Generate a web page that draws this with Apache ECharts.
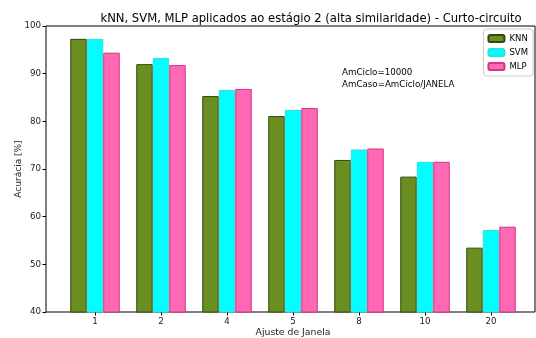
<!DOCTYPE html>
<html><head><meta charset="utf-8">
<script src="https://cdn.jsdelivr.net/npm/echarts@6/dist/echarts.min.js"></script>
<style>html,body{margin:0;padding:0;background:#fff}#c{width:536px;height:338px}</style>
</head><body><div id="c"></div>
<script>
const categories = ['1','2','4','5','8','10','20'];
const knn = [97.3, 92.0, 85.3, 81.1, 71.9, 68.4, 53.5];
const svm = [97.3, 93.3, 86.6, 82.4, 74.1, 71.5, 57.2];
const mlp = [94.4, 91.8, 86.8, 82.8, 74.3, 71.5, 57.9];
const yTicks = [40, 50, 60, 70, 80, 90, 100];
const titleText = 'kNN, SVM, MLP aplicados ao estágio 2 (alta similaridade) - Curto-circuito';
const noteLines = ['AmCiclo=10000', 'AmCaso=AmCiclo/JANELA'];

const font = 'DejaVu Sans';
const chart = echarts.init(document.getElementById('c'));
chart.setOption({
  animation: false,
  textStyle: {fontFamily: font},
  title: {text: titleText, left: 306, top: 8, textAlign: 'center',
    textStyle: {fontFamily: font, fontSize: 11.6, fontWeight: 'normal', color: '#000'}},
  grid: [
    {left: 46, right: 1, top: 26, bottom: 26, show: true, borderColor: '#000', borderWidth: 1, backgroundColor: 'transparent', outerBoundsMode: 'none', containLabel: false},
    {left: 62, width: 462, top: 26, bottom: 26, outerBoundsMode: 'none', containLabel: false}
  ],
  xAxis: [
    {gridIndex: 0, type: 'value', min: 0, max: 1, show: false},
    {gridIndex: 1, type: 'category', data: categories,
      axisLine: {show: false},
      axisTick: {show: true, alignWithLabel: true, length: 3.5, lineStyle: {color: '#000'}},
      axisLabel: {color: '#222', fontSize: 8.7, margin: 5, fontFamily: font},
      name: 'Ajuste de Janela', nameLocation: 'middle', nameGap: 21, nameMoveOverlap: false,
      nameTextStyle: {color: '#222', fontSize: 9.3, fontFamily: font, verticalAlign: 'middle'}},
    ],
  yAxis: [
    {gridIndex: 0, type: 'value', min: 40, max: 100, interval: 10,
      axisLine: {show: false}, splitLine: {show: false},
      axisTick: {show: true, length: 3.5, lineStyle: {color: '#000'}},
      axisLabel: {color: '#222', fontSize: 8.7, margin: 5, fontFamily: font,
        formatter: v => yTicks.includes(v) ? String(v) : ''},
      name: 'Acurácia [%]', nameLocation: 'middle', nameGap: 27, nameMoveOverlap: false,
      nameTextStyle: {color: '#222', fontSize: 9, fontFamily: font, verticalAlign: 'middle'}},
    {gridIndex: 1, type: 'value', min: 40, max: 100, show: false, splitLine: {show: false}}
  ],
  legend: {
    orient: 'vertical', right: 3, top: 29, itemWidth: 16, itemHeight: 7, itemGap: 5,
    padding: [5, 5, 5, 4], borderColor: '#cccccc', borderWidth: 1, borderRadius: 3,
    backgroundColor: 'rgba(255,255,255,0.8)',
    textStyle: {fontSize: 8.5, color: '#000', fontFamily: font},
    data: ['KNN', 'SVM', 'MLP']
  },
  graphic: [
    {type: 'text', left: 342, top: 67, style: {text: noteLines.join('\n'), fontSize: 8.7, lineHeight: 11.5, fill: '#000', fontFamily: font}}
  ],
  series: [
    {name: 'KNN', type: 'bar', xAxisIndex: 1, yAxisIndex: 1, data: knn, barGap: '0%', barCategoryGap: '25%',
      itemStyle: {color: '#6b8e23', borderColor: '#2f4a0c', borderWidth: 1}},
    {name: 'SVM', type: 'bar', xAxisIndex: 1, yAxisIndex: 1, data: svm, barGap: '0%', barCategoryGap: '25%',
      itemStyle: {color: '#00ffff', borderColor: '#33e0e0', borderWidth: 1}},
    {name: 'MLP', type: 'bar', xAxisIndex: 1, yAxisIndex: 1, data: mlp, barGap: '0%', barCategoryGap: '25%',
      itemStyle: {color: '#ff69b4', borderColor: '#d63384', borderWidth: 1}}
  ]
});
</script></body></html>
